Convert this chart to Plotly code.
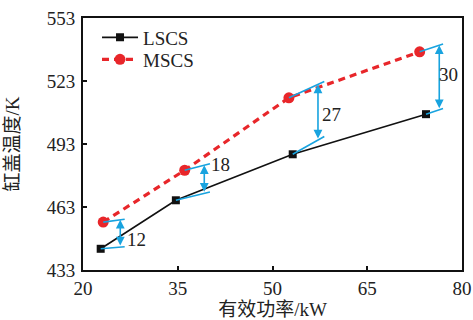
import plotly.graph_objects as go

# Data
lscs_x = [22.8, 34.7, 53.2, 74.3]
lscs_y = [443.1, 466.2, 488.1, 507.2]
mscs_x = [23.2, 36.1, 52.6, 73.3]
mscs_y = [455.8, 480.5, 515.0, 536.9]

# Gap annotations
gap_labels = ["12", "18", "27", "30"]
gap_x = [25.9, 39.2, 57.2, 76.4]
gap_top = [456.9, 482.9, 521.4, 540.0]
gap_bottom = [443.9, 469.5, 494.9, 509.3]
ext_end_x = [26.6, 40.1, 58.2, 77.0]
label_x = [28.4, 41.7, 59.3, 77.9]
label_y = [447.6, 483.3, 507.2, 526.3]

x_ticks = [20, 35, 50, 65, 80]
y_ticks = [433, 463, 493, 523, 553]

CYAN = "#18A3DF"
RED = "#E8262A"
FONT = "Liberation Serif, Times New Roman, Noto Sans CJK SC, serif"
FS = 19

fig = go.Figure()
fig.add_trace(go.Scatter(x=lscs_x, y=lscs_y, mode="lines+markers", name="LSCS",
                         line=dict(color="#111111", width=1.6), legend="legend",
                         marker=dict(symbol="square", size=8, color="#111111")))
fig.add_trace(go.Scatter(x=mscs_x, y=mscs_y, mode="lines+markers", name="MSCS",
                         line=dict(color=RED, width=3.2, dash="7px,5px"), legend="legend2",
                         marker=dict(symbol="circle", size=11, color=RED)))

def ext_line(x0, y0, xa, ya, xe):
    slope = (ya - y0) / (xa - x0)
    return y0 + slope * (xe - x0)

for i in range(len(gap_labels)):
    ye_top = ext_line(mscs_x[i], mscs_y[i], gap_x[i], gap_top[i], ext_end_x[i])
    ye_bot = ext_line(lscs_x[i], lscs_y[i], gap_x[i], gap_bottom[i], ext_end_x[i])
    fig.add_shape(type="line", xref="x", yref="y", x0=mscs_x[i], y0=mscs_y[i],
                  x1=ext_end_x[i], y1=ye_top, line=dict(color=CYAN, width=1.6))
    fig.add_shape(type="line", xref="x", yref="y", x0=lscs_x[i], y0=lscs_y[i],
                  x1=ext_end_x[i], y1=ye_bot, line=dict(color=CYAN, width=1.6))
    fig.add_annotation(x=gap_x[i], y=gap_top[i], ax=gap_x[i], ay=gap_bottom[i],
                       xref="x", yref="y", axref="x", ayref="y", text="",
                       showarrow=True, arrowhead=2, startarrowhead=2,
                       arrowside="end+start", arrowsize=1.1, startarrowsize=1.1,
                       arrowwidth=1.6, arrowcolor=CYAN, standoff=0, startstandoff=0)
    fig.add_annotation(x=label_x[i], y=label_y[i], xref="x", yref="y",
                       text=gap_labels[i], showarrow=False,
                       font=dict(family=FONT, size=FS, color="#222222"))

axis_common = dict(showline=True, linecolor="#111111", linewidth=2, mirror=True,
                   ticks="inside", ticklen=4, tickwidth=1.5, tickcolor="#111111",
                   showgrid=False, zeroline=False, automargin=False,
                   tickfont=dict(family=FONT, size=FS, color="#222222"))

fig.update_xaxes(range=[20, 80], tickvals=x_ticks, ticklabelstandoff=0,
                 title=dict(text="有效功率/kW", font=dict(family=FONT, size=FS, color="#222222"), standoff=15),
                 **axis_common)
fig.update_yaxes(range=[433, 553], tickvals=y_ticks, ticklabelstandoff=2,
                 title=dict(text="缸盖温度/K", font=dict(family=FONT, size=FS, color="#222222"), standoff=22),
                 **axis_common)

leg_common = dict(xanchor="left", yanchor="top", bgcolor="rgba(0,0,0,0)",
                  font=dict(family=FONT, size=FS, color="#222222"), itemwidth=36)
fig.update_layout(width=473, height=320, margin=dict(l=83, r=11, t=18, b=50),
                  paper_bgcolor="white", plot_bgcolor="white",
                  showlegend=True,
                  legend=dict(x=0.037, y=0.998, **leg_common),
                  legend2=dict(x=0.037, y=0.911, **leg_common))

fig.write_html("out.html")
